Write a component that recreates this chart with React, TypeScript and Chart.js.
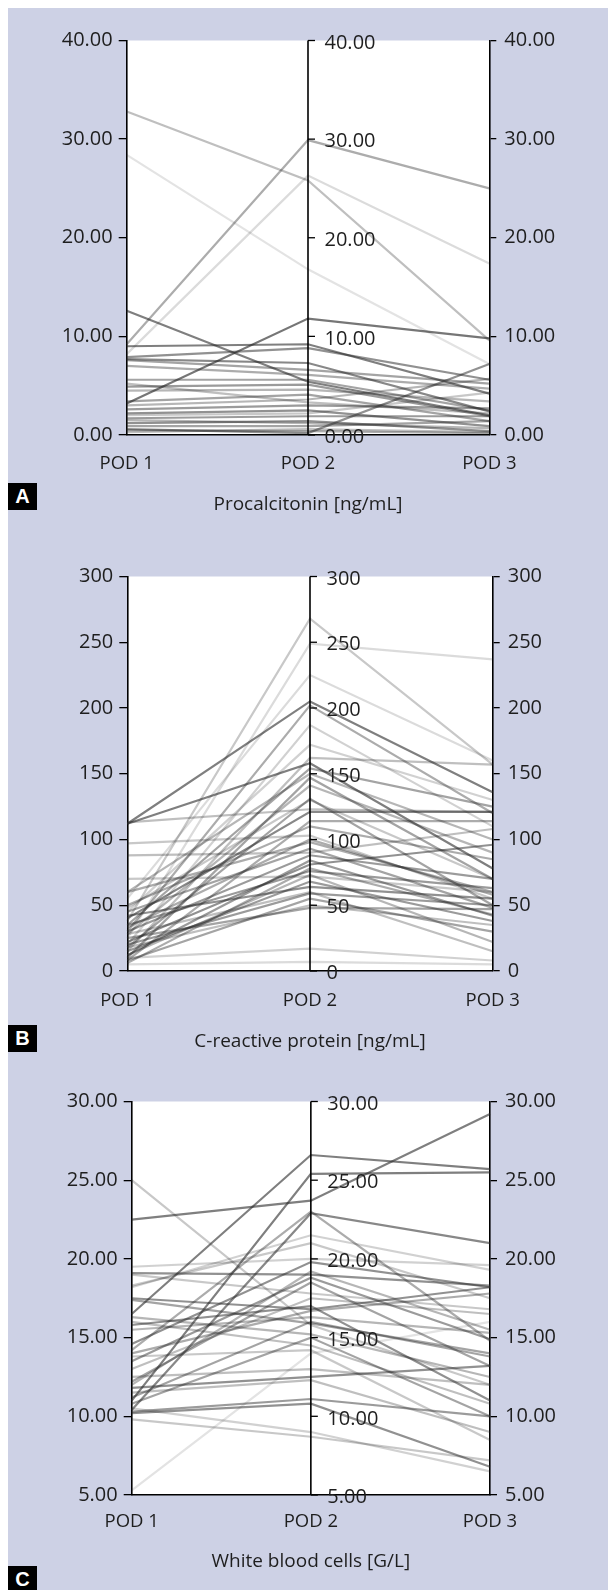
import React, { useEffect, useRef } from 'react';
import { Chart, registerables } from 'chart.js';

Chart.register(...registerables);

// ---------- categories ----------
const PODS = ['POD 1', 'POD 2', 'POD 3'];

// ---------- Panel A: Procalcitonin [ng/mL] ----------
const pctPod1 = [32.8, 28.4, 9.2, 8.2, 12.6, 3.2, 0.6, 9.0, 7.9, 7.7, 7.6, 7.0, 5.6, 4.9, 4.5, 3.4, 3.0, 2.6, 2.2, 1.7, 1.2, 0.9, 0.5, 1.5, 0.3, 5.2, 2.0];
const pctPod2 = [25.8, 16.8, 29.9, 26.3, 5.4, 11.8, 0.2, 9.2, 8.8, 7.3, 6.6, 6.1, 5.6, 5.1, 4.6, 4.1, 3.6, 3.0, 2.5, 1.9, 1.4, 0.9, 0.4, 1.2, 0.6, 3.3, 2.2];
const pctPod3 = [9.6, 7.2, 25.0, 17.4, 2.0, 9.8, 7.2, 4.2, 5.6, 2.4, 5.2, 4.7, 2.5, 1.9, 3.4, 1.4, 5.7, 2.7, 0.9, 1.9, 0.4, 1.4, 0.2, 0.7, 0.3, 2.2, 4.3];
const pctShade = [0.35, 0.15, 0.45, 0.2, 0.7, 0.75, 0.6, 0.7, 0.6, 0.65, 0.5, 0.45, 0.5, 0.55, 0.4, 0.5, 0.4, 0.55, 0.6, 0.55, 0.6, 0.5, 0.45, 0.4, 0.35, 0.35, 0.3];
const pctTicks = ['0.00', '10.00', '20.00', '30.00', '40.00'];

// ---------- Panel B: C-reactive protein [ng/mL] ----------
const crpPod1 = [38, 25, 112, 30, 112, 55, 20, 45, 15, 35, 10, 28, 18, 113, 40, 8, 97, 60, 45, 30, 12, 22, 35, 70, 15, 42, 20, 8, 25, 10, 5, 88, 60, 50, 33, 6, 12, 48, 28, 18];
const crpPod2 = [268, 249, 205, 202, 158, 225, 187, 172, 162, 154, 147, 141, 131, 123, 121, 114, 103, 98, 93, 88, 84, 81, 76, 72, 68, 64, 59, 55, 48, 17, 7, 90, 150, 110, 100, 78, 73, 130, 60, 50];
const crpPod3 = [157, 237, 136, 120, 78, 160, 110, 130, 157, 125, 70, 90, 50, 121, 121, 114, 55, 60, 48, 70, 42, 96, 63, 60, 38, 55, 50, 30, 47, 8, 5, 108, 100, 85, 58, 43, 22, 70, 15, 35];
const crpShade = [0.3, 0.2, 0.7, 0.45, 0.7, 0.2, 0.25, 0.25, 0.35, 0.5, 0.5, 0.4, 0.5, 0.35, 0.65, 0.45, 0.3, 0.45, 0.5, 0.55, 0.55, 0.6, 0.55, 0.3, 0.55, 0.6, 0.55, 0.5, 0.5, 0.25, 0.2, 0.35, 0.4, 0.45, 0.45, 0.45, 0.4, 0.3, 0.35, 0.35];
const crpTicks = ['0', '50', '100', '150', '200', '250', '300'];

// ---------- Panel C: White blood cells [G/L] ----------
const wbcPod1 = [25.0, 22.5, 16.5, 11.0, 10.4, 14.2, 18.2, 19.1, 19.5, 14.6, 17.5, 17.4, 13.5, 12.2, 15.8, 11.2, 10.8, 11.8, 10.3, 10.2, 9.8, 5.3, 12.5, 13.0, 15.5, 14.0, 16.0, 10.5, 12.0, 18.3, 16.3, 11.5, 13.8, 19.0];
const wbcPod2 = [15.8, 23.7, 26.6, 25.4, 22.9, 23.0, 21.5, 19.0, 20.0, 19.8, 16.8, 15.9, 18.8, 18.5, 17.0, 16.0, 15.0, 12.5, 11.1, 10.8, 8.7, 14.0, 13.0, 17.5, 16.3, 16.7, 14.5, 9.0, 19.2, 21.0, 15.2, 12.3, 14.2, 17.8];
const wbcPod3 = [12.0, 29.2, 25.7, 25.5, 21.0, 14.8, 19.3, 18.3, 19.6, 18.2, 18.2, 14.0, 14.9, 13.2, 11.0, 13.8, 10.0, 13.2, 10.0, 6.8, 7.2, 16.0, 12.0, 16.5, 15.3, 17.8, 10.8, 6.5, 15.5, 17.5, 12.5, 9.0, 8.5, 16.8];
const wbcShade = [0.3, 0.7, 0.7, 0.7, 0.65, 0.45, 0.25, 0.6, 0.25, 0.6, 0.6, 0.5, 0.55, 0.5, 0.6, 0.5, 0.5, 0.6, 0.55, 0.6, 0.3, 0.15, 0.35, 0.35, 0.4, 0.45, 0.35, 0.25, 0.4, 0.3, 0.4, 0.35, 0.3, 0.3];
const wbcTicks = ['5.00', '10.00', '15.00', '20.00', '25.00', '30.00'];

const FONT = '"Open Sans", "Noto Sans", sans-serif';
const TEXT = '#1e1e1e';
const BG = 'rgb(205, 209, 229)';

type PanelCfg = {
  pod1: number[];
  pod2: number[];
  pod3: number[];
  shade: number[];
  tickLabels: string[];
  min: number;
  max: number;
  step: number;
  title: string;
  letter: string;
  // layout (page coordinates)
  canvasTop: number;
  plotTop: number;
  plotBottom: number;
  plotLeft: number;
  plotRight: number;
  podGap: number;
  titleGap: number;
  letterTop: number;
};

const panels: PanelCfg[] = [
  {
    pod1: pctPod1, pod2: pctPod2, pod3: pctPod3, shade: pctShade, tickLabels: pctTicks,
    min: 0, max: 40, step: 10, title: 'Procalcitonin [ng/mL]', letter: 'A',
    canvasTop: 8, plotTop: 40.5, plotBottom: 435, plotLeft: 126.7, plotRight: 489.3,
    podGap: 29, titleGap: 70, letterTop: 483,
  },
  {
    pod1: crpPod1, pod2: crpPod2, pod3: crpPod3, shade: crpShade, tickLabels: crpTicks,
    min: 0, max: 300, step: 50, title: 'C-reactive protein [ng/mL]', letter: 'B',
    canvasTop: 530, plotTop: 576.5, plotBottom: 971, plotLeft: 127.3, plotRight: 492.7,
    podGap: 29.5, titleGap: 71, letterTop: 1025,
  },
  {
    pod1: wbcPod1, pod2: wbcPod2, pod3: wbcPod3, shade: wbcShade, tickLabels: wbcTicks,
    min: 5, max: 30, step: 5, title: 'White blood cells [G/L]', letter: 'C',
    canvasTop: 1060, plotTop: 1101.5, plotBottom: 1495, plotLeft: 131.7, plotRight: 490,
    podGap: 27, titleGap: 67, letterTop: 1566,
  },
];

const plotBackground = {
  id: 'plotBackground',
  beforeDraw(chart: any) {
    const { ctx, chartArea } = chart;
    ctx.save();
    ctx.fillStyle = '#ffffff';
    ctx.fillRect(chartArea.left, chartArea.top, chartArea.right - chartArea.left, chartArea.bottom - chartArea.top);
    ctx.restore();
  },
};

const middleAxis = {
  id: 'middleAxis',
  afterDatasetsDraw(chart: any) {
    const { ctx, chartArea, scales } = chart;
    const x = scales.x.getPixelForValue(1);
    const yScale = scales.y;
    ctx.save();
    ctx.strokeStyle = '#000';
    ctx.lineWidth = 1.6;
    ctx.beginPath();
    ctx.moveTo(x, chartArea.top);
    ctx.lineTo(x, chartArea.bottom);
    ctx.stroke();
    ctx.lineWidth = 1.3;
    ctx.font = `20px ${FONT}`;
    ctx.fillStyle = TEXT;
    ctx.textAlign = 'left';
    ctx.textBaseline = 'middle';
    yScale.ticks.forEach((t: any) => {
      const py = yScale.getPixelForValue(t.value);
      ctx.beginPath();
      ctx.moveTo(x, py);
      ctx.lineTo(x + 7, py);
      ctx.stroke();
      ctx.fillText(t.label, x + 16.5, py + 2.5);
    });
    ctx.restore();
  },
};

function Panel({ cfg }: { cfg: PanelCfg }) {
  const ref = useRef<HTMLCanvasElement>(null);
  const W = 600;
  const xAxisH = cfg.titleGap + 11.4;
  const padTop = cfg.plotTop - cfg.canvasTop;
  const H = Math.ceil(padTop + (cfg.plotBottom - cfg.plotTop) + xAxisH + 4);
  const padBottom = H - padTop - (cfg.plotBottom - cfg.plotTop) - xAxisH;
  const leftW = cfg.plotLeft - 8;
  const rightW = 608 - cfg.plotRight;

  useEffect(() => {
    const labelFor = (v: number) => {
      const idx = Math.round((v - cfg.min) / cfg.step);
      return cfg.tickLabels[idx] ?? '';
    };
    const datasets = cfg.pod1.map((_, i) => ({
      data: [cfg.pod1[i], cfg.pod2[i], cfg.pod3[i]],
      borderColor: `rgba(40,40,40,${(cfg.shade[i] * 0.85).toFixed(3)})`,
      borderWidth: 2.2,
      pointRadius: 0,
      tension: 0,
      yAxisID: 'y',
      fill: false,
    }));
    const yCommon = {
      min: cfg.min,
      max: cfg.max,
      z: 1,
      border: { display: true, color: '#000', width: 1.6 },
      ticks: {
        stepSize: cfg.step,
        color: TEXT,
        font: { family: FONT, size: 20 },
        callback: (v: any) => labelFor(Number(v)),
      },
    };
    const chart = new Chart(ref.current as HTMLCanvasElement, {
      type: 'line',
      data: { labels: PODS, datasets },
      options: {
        responsive: false,
        animation: false,
        devicePixelRatio: 1,
        layout: { padding: { top: padTop, bottom: padBottom, left: 0, right: 0 } },
        plugins: { legend: { display: false }, tooltip: { enabled: false }, title: { display: false } },
        scales: {
          x: {
            type: 'category',
            offset: false,
            z: 1,
            grid: { display: false, drawTicks: false, tickLength: 0 },
            border: { display: true, color: '#000', width: 1.6 },
            ticks: {
              color: TEXT,
              font: { family: FONT, size: 18.5 },
              padding: cfg.podGap - 11.1,
              maxRotation: 0,
              autoSkip: false,
            },
            title: {
              display: true,
              text: cfg.title,
              color: TEXT,
              font: { family: FONT, size: 19 },
              padding: { top: 0, bottom: 0 },
            },
            afterFit: (s: any) => {
              s.height = xAxisH;
            },
          },
          y: {
            ...yCommon,
            position: 'left',
            grid: { display: true, drawOnChartArea: false, drawTicks: true, tickLength: 8, color: '#000', lineWidth: 1.3 },
            ticks: { ...yCommon.ticks, padding: 6 },
            afterFit: (s: any) => {
              s.width = leftW;
            },
          },
          y2: {
            ...yCommon,
            position: 'right',
            grid: { display: true, drawOnChartArea: false, drawTicks: true, tickLength: 7, color: '#000', lineWidth: 1.3 },
            ticks: { ...yCommon.ticks, padding: 8 },
            afterFit: (s: any) => {
              s.width = rightW;
            },
          },
        },
      } as any,
      plugins: [plotBackground, middleAxis],
    });
    return () => chart.destroy();
  }, []);

  return (
    <>
      <canvas
        ref={ref}
        width={W}
        height={H}
        style={{ position: 'absolute', left: 0, top: cfg.canvasTop - 8, width: W, height: H }}
      />
      <div
        style={{
          position: 'absolute',
          left: 0,
          top: cfg.letterTop - 8,
          width: 29,
          height: 27,
          background: '#000',
          color: '#fff',
          fontFamily: '"Liberation Sans", Arial, sans-serif',
          fontWeight: 700,
          fontSize: 20,
          lineHeight: '27px',
          textAlign: 'center',
        }}
      >
        {cfg.letter}
      </div>
    </>
  );
}

export default function App() {
  useEffect(() => {
    document.body.style.margin = '0';
    document.body.style.overflow = 'hidden';
  }, []);
  return (
    <div
      style={{
        position: 'fixed',
        left: 8,
        top: 8,
        width: 600,
        height: 1582,
        background: BG,
        overflow: 'hidden',
      }}
    >
      {panels.map((p) => (
        <Panel key={p.letter} cfg={p} />
      ))}
    </div>
  );
}
